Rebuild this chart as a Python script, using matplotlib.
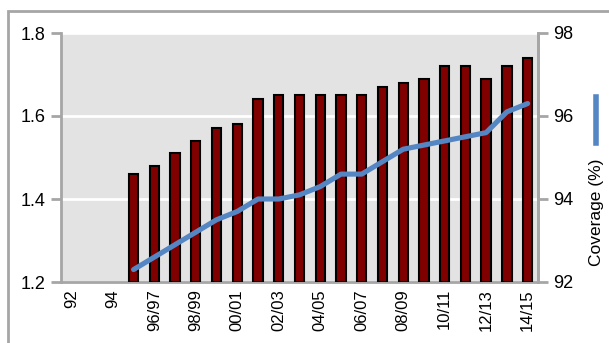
import matplotlib.pyplot as plt
from matplotlib.lines import Line2D
from matplotlib.patches import Rectangle

plt.rcParams['font.family'] = ['Liberation Sans', 'DejaVu Sans']

# categorias y datos
anios = ['92', '93', '94', '95/96', '96/97', '97/98', '98/99', '99/00', '00/01',
         '01/02', '02/03', '03/04', '04/05', '05/06', '06/07', '07/08', '08/09',
         '09/10', '10/11', '11/12', '12/13', '13/14', '14/15']
etiquetas = ['92', '', '94', '', '96/97', '', '98/99', '', '00/01', '', '02/03', '',
             '04/05', '', '06/07', '', '08/09', '', '10/11', '', '12/13', '', '14/15']
barras = [None, None, None, 1.46, 1.48, 1.51, 1.54, 1.57, 1.58, 1.64, 1.65, 1.65,
          1.65, 1.65, 1.65, 1.67, 1.68, 1.69, 1.72, 1.72, 1.69, 1.72, 1.74]
cobertura = [None, None, None, 92.3, 92.6, 92.9, 93.2, 93.5, 93.7, 94.0, 94.0, 94.1,
             94.3, 94.6, 94.6, 94.9, 95.2, 95.3, 95.4, 95.5, 95.6, 96.1, 96.3]

gris = '#a6a6a6'
azul = '#5586c4'

fig = plt.figure(figsize=(6.09, 3.43), dpi=100)
ax = fig.add_axes([61 / 609, 1 - 282 / 343, (538 - 61) / 609, (282 - 33) / 343])
ax.set_facecolor('#e3e3e3')

xb = [i for i, v in enumerate(barras) if v is not None]
yb = [v for v in barras if v is not None]
ax.bar(xb, [v - 1.2 for v in yb], bottom=1.2, width=0.45, color='#800000',
       edgecolor='black', linewidth=1.5, zorder=3)

ax.set_ylim(1.2, 1.8)
ax.set_yticks([1.2, 1.4, 1.6, 1.8])
ax.set_yticklabels(['1.2', '1.4', '1.6', '1.8'])
ax.set_xlim(-0.5, len(anios) - 0.5)
ax.set_xticks(range(len(anios)))
ax.set_xticklabels(etiquetas, rotation=90, fontsize=12)
ax.grid(axis='y', color='white', linewidth=2, zorder=1)
ax.set_axisbelow(True)
ax.tick_params(axis='y', labelsize=13, length=7, width=2, color=gris, pad=4)
ax.tick_params(axis='x', length=0, pad=5)
for lado in ['left', 'bottom', 'right']:
    ax.spines[lado].set_color(gris)
    ax.spines[lado].set_linewidth(2)
ax.spines['top'].set_visible(False)

ax2 = ax.twinx()
xl = [i for i, v in enumerate(cobertura) if v is not None]
yl = [v for v in cobertura if v is not None]
ax2.plot(xl, yl, color=azul, linewidth=3.7, solid_capstyle='round', zorder=4)
ax2.set_ylim(92, 98)
ax2.set_yticks([92, 94, 96, 98])
ax2.tick_params(axis='y', labelsize=13, length=7, width=2, color=gris, pad=4)
for lado in ['left', 'bottom', 'right', 'top']:
    ax2.spines[lado].set_visible(False)
ax2.spines['right'].set_visible(True)
ax2.spines['right'].set_color(gris)
ax2.spines['right'].set_linewidth(2)

# leyenda girada a la derecha
fig.add_artist(Line2D([596 / 609, 596 / 609], [1 - 97 / 343, 1 - 143 / 343],
                      color=azul, linewidth=4, transform=fig.transFigure))
fig.text(597 / 609, 1 - 212 / 343, 'Coverage (%)', rotation=90, fontsize=12.5,
         ha='center', va='center')

# marco gris
fig.add_artist(Rectangle((8 / 609, -0.1), 1.2, 1 - 11 / 343 + 0.1, fill=False,
                         edgecolor=gris, linewidth=2, transform=fig.transFigure))

fig.savefig('out.png', dpi=100)
